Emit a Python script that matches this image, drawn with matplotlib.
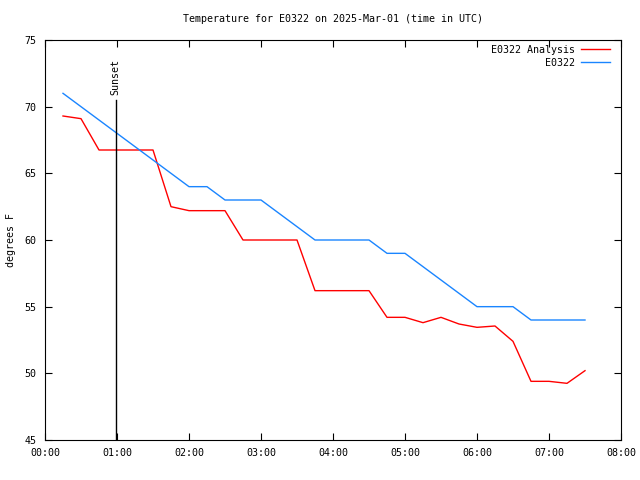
import matplotlib
matplotlib.use('Agg')
import matplotlib.pyplot as plt

# data, every 15 minutes from 00:15 to 07:30 UTC
times = ['00:15', '00:30', '00:45', '01:00', '01:15', '01:30', '01:45', '02:00',
         '02:15', '02:30', '02:45', '03:00', '03:15', '03:30', '03:45', '04:00',
         '04:15', '04:30', '04:45', '05:00', '05:15', '05:30', '05:45', '06:00',
         '06:15', '06:30', '06:45', '07:00', '07:15', '07:30']
analysis = [69.3, 69.1, 66.75, 66.75, 66.75, 66.75, 62.5, 62.2,
            62.2, 62.2, 60.0, 60.0, 60.0, 60.0, 56.2, 56.2,
            56.2, 56.2, 54.2, 54.2, 53.8, 54.2, 53.7, 53.45,
            53.55, 52.4, 49.4, 49.4, 49.25, 50.2]
obs = [71, 70, 69, 68, 67, 66, 65, 64,
       64, 63, 63, 63, 62, 61, 60, 60,
       60, 60, 59, 59, 58, 57, 56, 55,
       55, 55, 54, 54, 54, 54]
sunset = '00:59'
tick_labels = ['00:00', '01:00', '02:00', '03:00', '04:00', '05:00', '06:00', '07:00', '08:00']


def to_hours(s):
    h, m = s.split(':')
    return int(h) + int(m) / 60.0


x = [to_hours(t) for t in times]

plt.rcParams['font.family'] = 'DejaVu Sans Mono'
fig = plt.figure(figsize=(6.4, 4.8), dpi=100)
ax = fig.add_axes([45 / 640, 40 / 480, 576 / 640, 400 / 480])

ax.plot(x, analysis, color='#ff0000', lw=1, label='E0322 Analysis')
ax.plot(x, obs, color='#1a85ff', lw=1, label='E0322')

# sunset marker
sx = to_hours(sunset)
ax.plot([sx, sx], [45, 70.5], color='black', lw=1)
ax.text(sx, 70.9, 'Sunset', rotation=90, ha='center', va='bottom', fontsize=7.2)

ax.set_xlim(0, 8)
ax.set_ylim(45, 75)
ax.set_xticks([to_hours(t) for t in tick_labels])
ax.set_xticklabels(tick_labels)
ax.set_yticks(range(45, 80, 5))
ax.tick_params(direction='in', length=5, width=0.8, top=True, right=True,
               labelsize=7.2, pad=6)
for sp in ax.spines.values():
    sp.set_linewidth(0.8)

ax.set_ylabel('degrees F', fontsize=7.2, labelpad=6)
ax.set_title('Temperature for E0322 on 2025-Mar-01 (time in UTC)', fontsize=7.2, pad=13)

ax.legend(loc='upper right', bbox_to_anchor=(0.992, 1.003), frameon=False,
          fontsize=7.2, markerfirst=False, handlelength=2.9, borderaxespad=0.2,
          labelspacing=0.3, handletextpad=0.6)

fig.savefig('out.png', dpi=100)
